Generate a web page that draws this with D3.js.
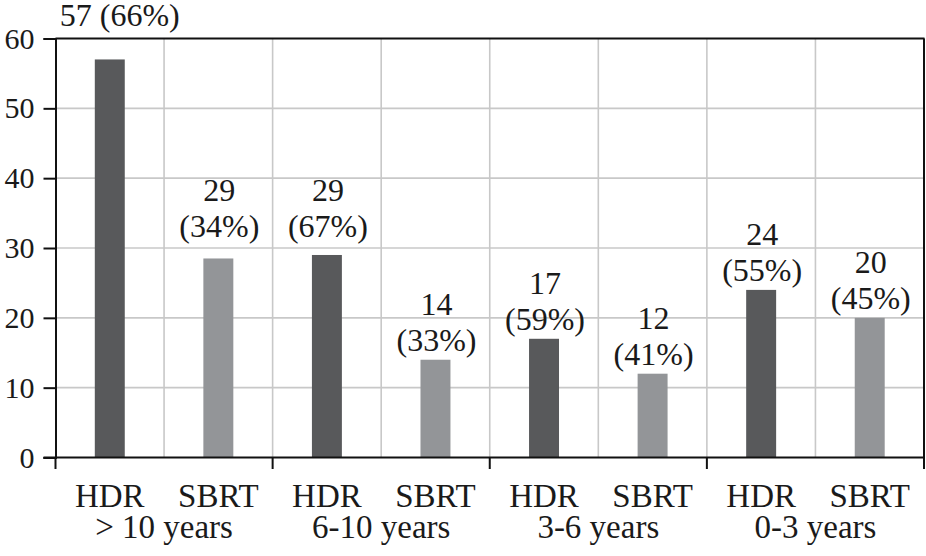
<!DOCTYPE html>
<html><head><meta charset="utf-8"><script src="https://cdn.jsdelivr.net/npm/d3@7"></script></head>
<body style="margin:0">
<svg id="chart" width="926" height="556" font-family="Liberation Serif"></svg>
<script>
// ---- data ----
const groups = ["> 10 years", "6-10 years", "3-6 years", "0-3 years"];
const modalities = ["HDR", "SBRT"];
const hdrValues = [57, 29, 17, 24];
const sbrtValues = [28.5, 14, 12, 20];
const hdrCounts = [57, 29, 17, 24];
const sbrtCounts = [29, 14, 12, 20];
const hdrPercents = [66, 67, 59, 55];
const sbrtPercents = [34, 33, 41, 45];
const yTicks = [0, 10, 20, 30, 40, 50, 60];

// build rows
const rows = [];
groups.forEach((g, gi) => {
  rows.push({ group: g, gi, mod: "HDR", value: hdrValues[gi], count: hdrCounts[gi], pct: hdrPercents[gi] });
  rows.push({ group: g, gi, mod: "SBRT", value: sbrtValues[gi], count: sbrtCounts[gi], pct: sbrtPercents[gi] });
});
rows.forEach((r, i) => r.idx = i);

const TXT = "#1a1a1a";
const svg = d3.select("#chart");
const pL = 55.5, pR = 924, pT = 38.5, pB = 457.5;

const x = d3.scaleBand().domain(rows.map(r => r.idx)).range([pL, pR]).padding(0);
const xGroup = d3.scaleBand().domain(groups).range([pL, pR]).padding(0);
const y = d3.scaleLinear().domain([0, 60]).range([pB, pT]);
const color = d3.scaleOrdinal().domain(modalities).range(["#58595b", "#939598"]);

function label(sel, size) {
  return sel.style("font-family", '"Liberation Serif"').attr("font-family", "Liberation Serif")
    .style("font-size", size + "px").attr("fill", TXT);
}

// gridlines
svg.append("g").selectAll("line").data(yTicks.filter(t => t > 0 && t < 60)).join("line")
  .attr("x1", pL).attr("x2", pR).attr("y1", d => y(d)).attr("y2", d => y(d))
  .attr("stroke", "#c8c8c8").attr("stroke-width", 1.6);
svg.append("g").selectAll("line").data(rows.slice(1).map(r => r.idx)).join("line")
  .attr("x1", d => x(d)).attr("x2", d => x(d)).attr("y1", pT).attr("y2", pB)
  .attr("stroke", "#c8c8c8").attr("stroke-width", 1.6);

// bars
const barW = x.bandwidth() * 0.276;
svg.append("g").selectAll("rect").data(rows).join("rect")
  .attr("x", d => x(d.idx) + x.bandwidth() / 2 - barW / 2)
  .attr("width", barW)
  .attr("y", d => y(d.value))
  .attr("height", d => y(0) - y(d.value))
  .attr("fill", d => color(d.mod));

// frame: top and right borders
svg.append("line").attr("x1", pL).attr("x2", pR + 0.5).attr("y1", pT).attr("y2", pT)
  .attr("stroke", "#111").attr("stroke-width", 2);
svg.append("line").attr("x1", pR).attr("x2", pR).attr("y1", pT).attr("y2", pB)
  .attr("stroke", "#111").attr("stroke-width", 2);

// y axis
const yAxis = svg.append("g").attr("transform", `translate(${pL},0)`)
  .call(d3.axisLeft(y).tickValues(yTicks).tickSize(12).tickPadding(9).tickFormat(d3.format("d")));
yAxis.attr("font-family", "Liberation Serif").attr("font-size", 30);
yAxis.select(".domain").attr("stroke", "#111").attr("stroke-width", 2);
yAxis.selectAll(".tick line").attr("stroke", "#111").attr("stroke-width", 2);
label(yAxis.selectAll(".tick text"), 30);

// x axis line + group ticks
svg.append("line").attr("x1", pL - 12).attr("x2", pR + 1).attr("y1", pB).attr("y2", pB)
  .attr("stroke", "#111").attr("stroke-width", 2);
const boundaries = groups.map(g => xGroup(g)).concat([pR]);
svg.append("g").selectAll("line").data(boundaries).join("line")
  .attr("x1", d => d).attr("x2", d => d).attr("y1", pB).attr("y2", pB + 11.5)
  .attr("stroke", "#111").attr("stroke-width", 2);

// category labels
label(svg.append("g").selectAll("text").data(rows).join("text")
  .attr("x", d => x(d.idx) + x.bandwidth() / 2)
  .attr("y", 506.5)
  .attr("text-anchor", "middle"), 33)
  .text(d => d.mod);
label(svg.append("g").selectAll("text").data(groups).join("text")
  .attr("x", d => xGroup(d) + xGroup.bandwidth() / 2)
  .attr("y", 538)
  .attr("text-anchor", "middle"), 33)
  .text(d => d);

// value labels
const lineGap = 36, barGap = 9;
const lift = r => (r.gi === 0 && r.mod === "SBRT") ? 12 : (r.gi === 1 && r.mod === "HDR") ? 8.5 : 0;
const lbl = svg.append("g");
rows.forEach(r => {
  const cx = x(r.idx) + x.bandwidth() / 2;
  const base = y(r.value) - barGap - lift(r);
  if (base - lineGap - 24 < 0) {
    label(lbl.append("text").attr("x", cx + 10).attr("y", y(r.value) - 33)
      .attr("text-anchor", "middle"), 32)
      .text(`${r.count} (${r.pct}%)`);
  } else {
    label(lbl.append("text").attr("x", cx + 1).attr("y", base - lineGap)
      .attr("text-anchor", "middle"), 32)
      .text(r.count);
    label(lbl.append("text").attr("x", cx + 1).attr("y", base)
      .attr("text-anchor", "middle"), 32)
      .text(`(${r.pct}%)`);
  }
});
</script>
</body>
</html>
